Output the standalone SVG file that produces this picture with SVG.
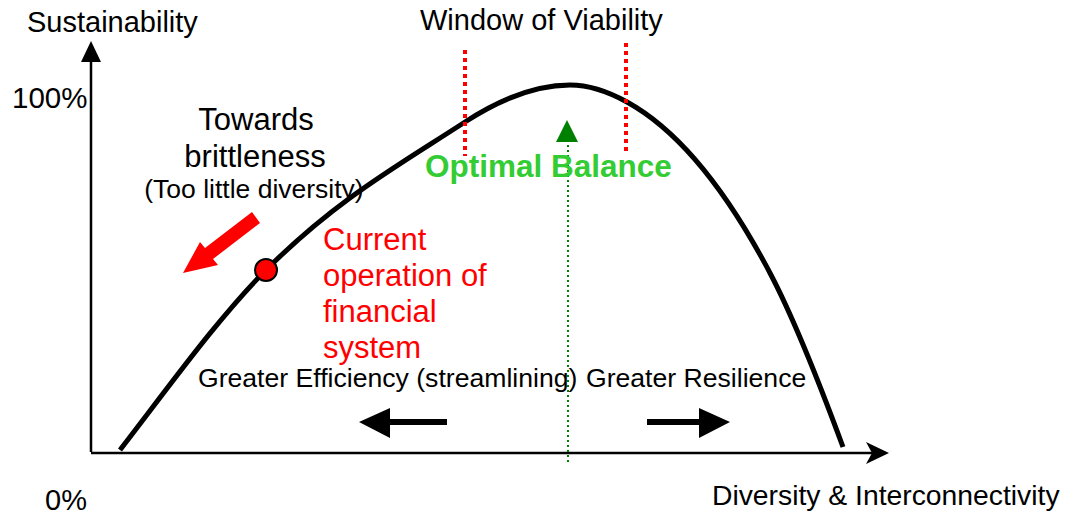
<svg xmlns="http://www.w3.org/2000/svg" width="1078" height="516" viewBox="0 0 1078 516">
<style>
text{font-family:"Liberation Sans",Arial,sans-serif;fill:#000}
.red{fill:#ff0000}
.green{fill:#33cc33;font-weight:bold}
.axis{stroke:#000;stroke-width:2.5;fill:none}
.win{stroke:#ff0000;stroke-width:4;stroke-dasharray:4 4;fill:none}
</style>
<rect width="1078" height="516" fill="#fff"/>
<g id="connectors">
<line class="axis" x1="91" y1="452" x2="91" y2="58"/>
<path d="M91,41 L81,62 L101,62 Z" fill="#000"/>
<line class="axis" x1="91" y1="453" x2="872" y2="453"/>
<path d="M889,453 L866,442 L872,453 L866,464 Z" fill="#000"/>
<path id="curve" d="M120,450 C168,388 218,318 266,270 C336,200 395,167.5 465,122 C500,99.25 535,85 570,85 C589,85 608,91.5 627,102 C675,128.4 722,182 770,273 C794,318.6 819,382 843,447" fill="none" stroke="#000" stroke-width="5"/>
<line class="win" x1="465" y1="50" x2="465" y2="156"/>
<line class="win" x1="626" y1="43" x2="626" y2="153"/>
<line x1="568" y1="140" x2="568" y2="464" stroke="#008000" stroke-width="2" stroke-dasharray="2 3"/>
<path d="M567,120 L556,142 L578,142 Z" fill="#008000"/>
<polygon points="252,212 260,223 213,259 218,265 183,273 200,242 205,248" fill="#ff0000"/>
<path d="M447,419 L390,419 L390,408 L359,422 L390,438 L390,425 L447,425 Z" fill="#000"/>
<path d="M647,419 L699,419 L699,408 L730,422 L699,438 L699,425 L647,425 Z" fill="#000"/>
</g>
<g id="current-point">
<circle cx="266" cy="270" r="11" fill="#ff0000" stroke="#000" stroke-width="2"/>
</g>
<g id="y-label"><text x="27" y="32" font-size="29">Sustainability</text></g>
<g id="y-100"><text x="12" y="108" font-size="29.5">100%</text></g>
<g id="y-0"><text x="45" y="510" font-size="29">0%</text></g>
<g id="x-label"><text x="712" y="505" font-size="28.3">Diversity &amp; Interconnectivity</text></g>
<g id="window"><text x="420" y="30" font-size="29">Window of Viability</text></g>
<g id="optimal"><text class="green" x="425" y="177" font-size="31.5">Optimal Balance</text></g>
<g id="brittleness">
<text x="256" y="130" font-size="31" text-anchor="middle">Towards</text>
<text x="255" y="167" font-size="31" text-anchor="middle">brittleness</text>
<text x="254" y="198" font-size="26.5" text-anchor="middle">(Too little diversity)</text>
</g>
<g id="current">
<text class="red" x="323" y="250" font-size="31">Current</text>
<text class="red" x="323" y="286" font-size="31">operation of</text>
<text class="red" x="323" y="322" font-size="31">financial</text>
<text class="red" x="323" y="358" font-size="31">system</text>
</g>
<g id="efficiency"><text x="198" y="387" font-size="26.6">Greater Efficiency (streamlining)</text></g>
<g id="resilience"><text x="586" y="387" font-size="26.6">Greater Resilience</text></g>
</svg>
